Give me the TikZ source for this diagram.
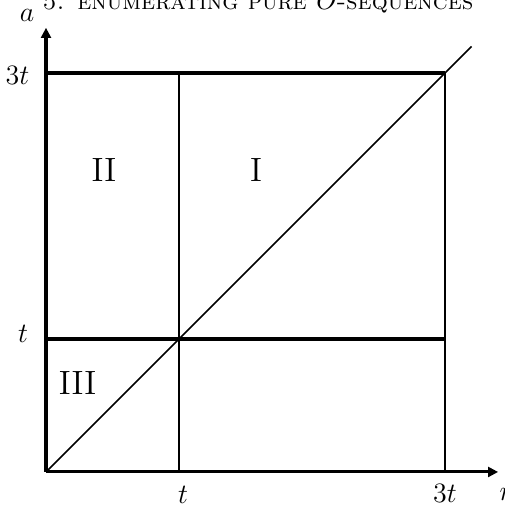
\documentclass[tikz,border=0pt]{standalone}
\usepackage{amsmath,amssymb}
\usepackage{tikz}
\usetikzlibrary{arrows.meta,positioning}
\tikzset{
  axis/.style={-{Triangle[length=4.3pt,width=4.2pt]},line width=1.3pt},
  hline/.style={line width=1.3pt},
  vline/.style={line width=0.9pt},
  diag/.style={line width=0.7pt},
  lbl/.style={font=\large,inner sep=1pt},
  region/.style={font=\Large,inner sep=1pt}
}

\begin{document}
\begin{tikzpicture}[x=2cm,y=2cm]
\useasboundingbox (-0.346,-0.286) rectangle (3.444,3.549);
\coordinate (o) at (0,0);
\coordinate (xend) at (3.40,0);
\coordinate (yend) at (0,3.34);
\coordinate (t0) at (1,0);
\coordinate (tt0) at (3,0);
\coordinate (0t) at (0,1);
\coordinate (0tt) at (0,3);
\coordinate (tt) at (1,1);
\coordinate (t3) at (1,3);
\coordinate (3t3) at (3,3);
\coordinate (3t1) at (3,1);
\coordinate (dend) at (3.2,3.2);
% axes
\draw[axis] (o)--(xend);
\draw[axis] (o)--(yend);
% the boxes
\draw[hline] (0tt)--(3t3);
\draw[hline] (0t)--(3t1);
\draw[vline] (t0)--(t3);
\draw[vline] (tt0)--(3t3);
\draw[diag] (o)--(dend);
% labels
\node[lbl] (la) at (-0.143,3.43) {$a$};
\node[lbl,anchor=west] (ln) at (3.39,-0.17) {$n$};
\node[lbl] (l3ty) at (-0.215,2.98) {$3t$};
\node[lbl] (lty) at (-0.173,1.04) {$t$};
\node[lbl] (ltx) at (1.03,-0.17) {$t$};
\node[lbl] (l3tx) at (3.0,-0.165) {$3t$};
\node[region] (rII) at (0.436,2.27) {II};
\node[region] (rI) at (1.58,2.27) {I};
\node[region] (rIII) at (0.237,0.67) {III};
\node[anchor=base,inner sep=0pt] (head) at (1.594,3.474)
  {\fontsize{10.8}{13}\selectfont\scshape 5. enumerating pure $O$-sequences};
\end{tikzpicture}
\end{document}
